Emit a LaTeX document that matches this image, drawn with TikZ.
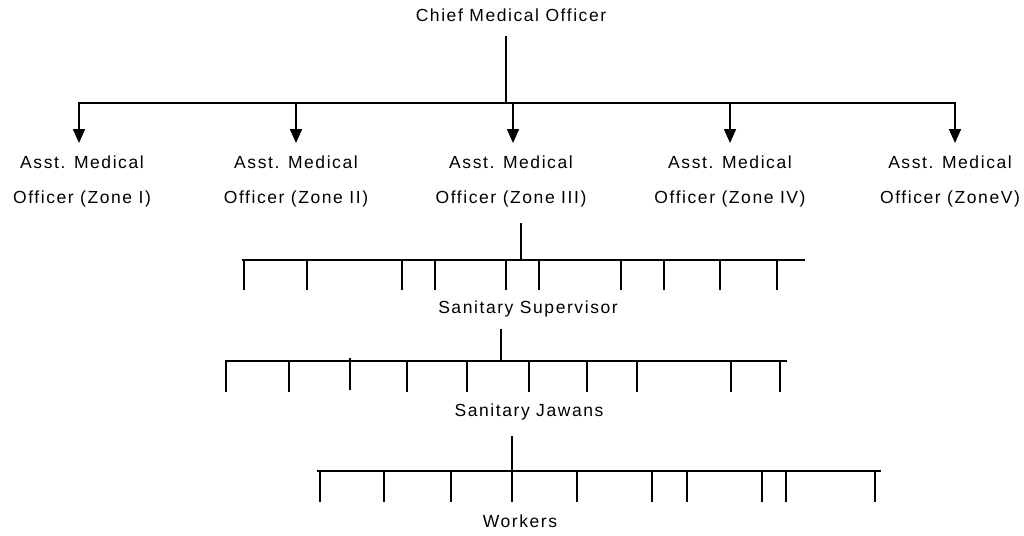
\documentclass[tikz,border=0pt]{standalone}
\usepackage{fontspec}
\setmainfont{Liberation Sans}[LetterSpace=9]
\usetikzlibrary{arrows.meta}
\tikzset{
  lbl/.style={inner sep=0pt, font=\fontsize{17.5}{35}\selectfont, align=center, anchor=base},
  wire/.style={line width=1.6pt, line cap=rect},
  tick/.style={line width=1.5pt},
  down/.style={line width=1.8pt, -{Triangle[length=14pt,width=12pt]}}
}
\begin{document}
\begin{tikzpicture}[x=1pt,y=-1pt]
\useasboundingbox (0,0) rectangle (1024,535);

% ---- top level
\node[lbl] (chief) at (511,22) {Chief Medical Officer};
\coordinate (j0) at (506,103);
\coordinate (c0) at (506,37);
\draw[wire] (c0) -- (j0);

% zone bus
\coordinate (b1) at (79,103);
\coordinate (b2) at (296,103);
\coordinate (b3) at (513,103);
\coordinate (b4) at (730,103);
\coordinate (b5) at (955,103);
\draw[wire] (b1) -- (b5);

% zone officers (base anchor sits on the second line)
\node[lbl] (z1) at (82,203)  {Asst. Medical\\Officer (Zone I)};
\node[lbl] (z2) at (296,203) {Asst. Medical\\Officer (Zone II)};
\node[lbl] (z3) at (511,203) {Asst. Medical\\Officer (Zone III)};
\node[lbl] (z4) at (730,203) {Asst. Medical\\Officer (Zone IV)};
\node[lbl] (z5) at (950,203) {Asst. Medical\\Officer (ZoneV)};
\foreach \i in {1,...,5}
  \draw[down] (b\i) -- ++(0,40);

% ---- sanitary supervisors
\coordinate (s0) at (521,224);
\coordinate (sj) at (521,260);
\draw[wire] (s0) -- (sj);
\coordinate (sl) at (243,260);
\coordinate (sr) at (804,260);
\draw[wire] (sl) -- (sr);
\foreach \x in {244,307,402,435,506,539,621,664,720,777}
  \draw[tick] (\x,260) -- (\x,290);
\node[lbl] (sup) at (528,313) {Sanitary Supervisor};

% ---- sanitary jawans
\coordinate (t0) at (501,330);
\coordinate (tj) at (501,361);
\draw[wire] (t0) -- (tj);
\coordinate (tl) at (226,361);
\coordinate (tr) at (786,361);
\draw[wire] (tl) -- (tr);
\foreach \x in {226,289,407,467,529,587,637,731,780}
  \draw[tick] (\x,361) -- (\x,392);
\draw[tick] (350,358) -- (350,390);
\node[lbl] (jaw) at (529,416) {Sanitary Jawans};

% ---- workers
\coordinate (w0) at (512,437);
\coordinate (wj) at (512,471);
\draw[wire] (w0) -- (wj);
\coordinate (wl) at (318,471);
\coordinate (wr) at (880,471);
\draw[wire] (wl) -- (wr);
\foreach \x in {320,384,451,512,577,652,687,762,786,875}
  \draw[tick] (\x,471) -- (\x,502);
\node[lbl] (wrk) at (520,527) {Workers};
\end{tikzpicture}
\end{document}
